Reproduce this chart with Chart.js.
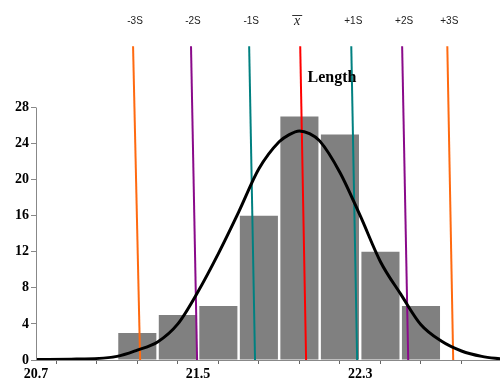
<!DOCTYPE html>
<html>
<head>
<meta charset="utf-8">
<script src="https://cdn.jsdelivr.net/npm/chart.js@4.4.0/dist/chart.umd.min.js"></script>
<style>
  html, body { margin: 0; padding: 0; background: #fff; }
  #wrap { width: 500px; height: 384px; }
</style>
</head>
<body>
<div id="wrap"><canvas id="hist"></canvas></div>
<script>
// histogram bins (centres) and counts
const binCenters = [21.2, 21.4, 21.6, 21.8, 22.0, 22.2, 22.4, 22.6];
const counts = [3, 5, 6, 16, 27, 25, 12, 6];

// normal curve
const curveX = [20.7, 20.9, 21.1, 21.2, 21.3, 21.4, 21.5, 21.6, 21.7, 21.8, 21.9, 21.95, 22.0, 22.05, 22.1, 22.2, 22.3, 22.4, 22.5, 22.6, 22.7, 22.8, 22.9, 23.0];
const curveY = [0.05, 0.1, 0.4, 1.1, 2.0, 4.0, 7.6, 11.8, 16.4, 21.2, 24.2, 25.0, 25.4, 25.1, 24.3, 20.8, 16.0, 10.9, 7.3, 3.9, 2.1, 1.0, 0.4, 0.1];

// mean and sigma lines (slightly slanted in the original)
const sigmaLabels = ['-3S', '-2S', '-1S', 'x', '+1S', '+2S', '+3S'];
const lineTopX = [21.179, 21.465, 21.752, 22.004, 22.256, 22.507, 22.730];
const lineBottomX = [21.214, 21.495, 21.781, 22.033, 22.285, 22.537, 22.759];
const lineTopY = 34.8;

const xTicks = [20.7, 20.9, 21.1, 21.3, 21.5, 21.7, 21.9, 22.1, 22.3, 22.5, 22.7, 22.9];
const xTickLabels = [20.7, 21.5, 22.3];
const yTicks = [0, 4, 8, 12, 16, 20, 24, 28];

const lineColors = ['#ff6a10', '#8a0a8a', '#008080', '#ff0000', '#008080', '#8a0a8a', '#ff6a10'];

const datasets = [];

datasets.push({
    type: 'line',
    data: curveX.map((x, i) => ({x: x, y: curveY[i]})),
    borderColor: '#000',
    borderWidth: 3,
    pointRadius: 0,
    cubicInterpolationMode: 'monotone',
    fill: false,
    order: 0
});

sigmaLabels.forEach((lab, i) => {
    datasets.push({
        type: 'line',
        data: [{x: lineTopX[i], y: lineTopY}, {x: lineBottomX[i], y: 0}],
        borderColor: lineColors[i],
        borderWidth: 2,
        pointRadius: 0,
        fill: false,
        order: 1
    });
});

datasets.push({
    type: 'bar',
    data: binCenters.map((x, i) => ({x: x, y: counts[i]})),
    backgroundColor: '#808080',
    borderWidth: 0,
    barPercentage: 1,
    categoryPercentage: 0.94,
    order: 2
});

// y axis line only up to the last tick, plus the labels and title
const decorations = {
    id: 'decorations',
    afterDatasetsDraw(chart) {
        const ctx = chart.ctx;
        const xs = chart.scales.x;
        const ys = chart.scales.y;
        ctx.save();
        ctx.strokeStyle = '#888';
        ctx.lineWidth = 1;
        ctx.beginPath();
        ctx.moveTo(xs.left + 0.5, ys.getPixelForValue(0));
        ctx.lineTo(xs.left + 0.5, ys.getPixelForValue(yTicks[yTicks.length - 1]));
        ctx.stroke();

        ctx.textAlign = 'center';
        ctx.textBaseline = 'middle';
        sigmaLabels.forEach((lab, i) => {
            const px = xs.getPixelForValue(lineTopX[i]);
            if (lab === 'x') {
                ctx.fillStyle = '#222';
                ctx.font = 'italic 14px "Liberation Serif"';
                ctx.fillText(lab, px - 3, 21);
                ctx.strokeStyle = '#333';
                ctx.beginPath();
                ctx.moveTo(px - 8, 15.5);
                ctx.lineTo(px + 2, 15.5);
                ctx.stroke();
            } else {
                ctx.fillStyle = '#222';
                ctx.font = '10px "Liberation Sans"';
                ctx.fillText(lab, px + 2, 21);
            }
        });

        ctx.fillStyle = '#000';
        ctx.font = 'bold 16px "Liberation Serif"';
        ctx.fillText('Length', 332, 78);
        ctx.restore();
    }
};

const config = {
    type: 'bar',
    data: { datasets: datasets },
    options: {
        responsive: false,
        animation: false,
        layout: { padding: 0 },
        plugins: {
            legend: { display: false },
            tooltip: { enabled: false }
        },
        scales: {
            x: {
                type: 'linear',
                min: 20.7,
                max: 22.99,
                offset: false,
                afterBuildTicks: scale => {
                    scale.ticks = xTicks.map(v => ({value: v}));
                },
                afterFit: scale => { scale.height = 24; },
                ticks: {
                    autoSkip: false,
                    maxRotation: 0,
                    padding: 2,
                    color: '#000',
                    font: { family: 'Liberation Serif', size: 14, weight: 'bold' },
                    callback: v => xTickLabels.some(t => Math.abs(t - v) < 1e-6) ? v.toFixed(1) : ''
                },
                grid: {
                    drawOnChartArea: false,
                    drawTicks: true,
                    tickLength: 4,
                    color: '#666'
                },
                border: { display: true, color: '#888', width: 1 }
            },
            y: {
                type: 'linear',
                min: 0,
                max: 38.77,
                afterBuildTicks: scale => {
                    scale.ticks = yTicks.map(v => ({value: v}));
                },
                afterFit: scale => { scale.width = 36; },
                ticks: {
                    padding: 2,
                    color: '#000',
                    font: { family: 'Liberation Serif', size: 14, weight: 'bold' }
                },
                grid: {
                    drawOnChartArea: false,
                    drawTicks: true,
                    tickLength: 5,
                    color: '#888'
                },
                border: { display: false }
            }
        }
    },
    plugins: [decorations]
};

const canvas = document.getElementById('hist');
canvas.width = 500;
canvas.height = 384;
const hist_chart = new Chart(canvas, config);
</script>
</body>
</html>
